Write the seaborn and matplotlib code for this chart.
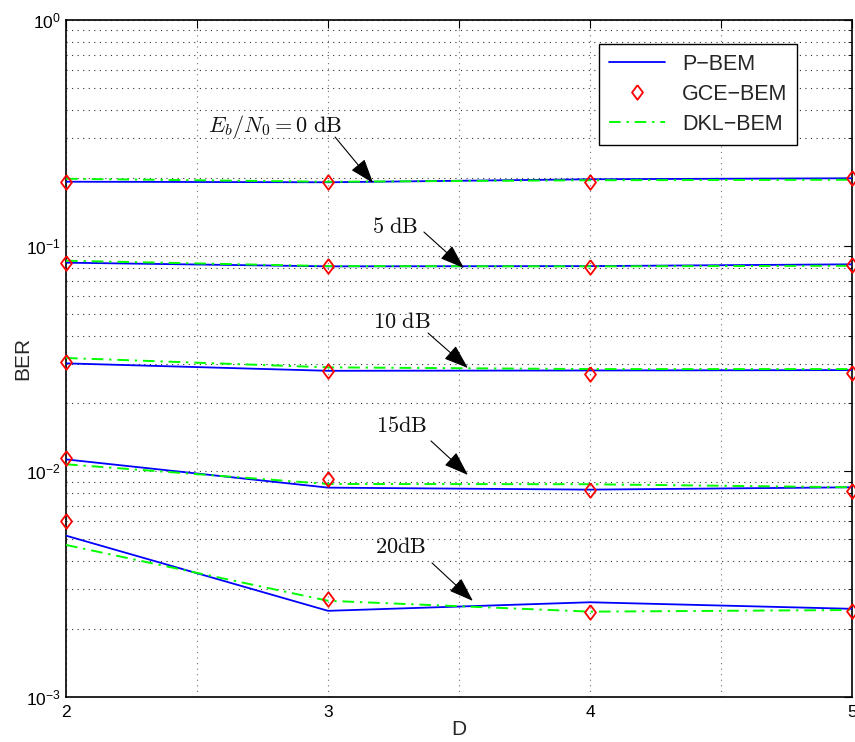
import numpy as np
import pandas as pd
import matplotlib
matplotlib.use("Agg")
import matplotlib.pyplot as plt
import seaborn as sns
from matplotlib.lines import Line2D

# Number of basis functions D
D = [2, 3, 4, 5]
snr_db = [0, 5, 10, 15, 20]

# BER for each Eb/N0 (rows) and D (columns)
p_bem = [
    [0.1921, 0.1910, 0.1970, 0.1990],
    [0.0841, 0.0810, 0.0812, 0.0827],
    [0.0301, 0.0279, 0.0280, 0.0281],
    [0.0113, 0.00847, 0.00830, 0.00850],
    [0.00519, 0.00241, 0.00263, 0.00246],
]
gce_bem = [
    [0.1920, 0.1910, 0.1920, 0.1990],
    [0.0835, 0.0810, 0.0807, 0.0818],
    [0.0305, 0.0279, 0.0271, 0.0274],
    [0.01142, 0.00923, 0.00828, 0.00819],
    [0.00605, 0.00272, 0.00238, 0.00240],
]
dkl_bem = [
    [0.1980, 0.1920, 0.1950, 0.1960],
    [0.0858, 0.0812, 0.0810, 0.0815],
    [0.0318, 0.0289, 0.0284, 0.0284],
    [0.01075, 0.00879, 0.00877, 0.00850],
    [0.00472, 0.00267, 0.00239, 0.00243],
]

annot_labels = [r"$E_b/N_0 = 0\ \mathrm{dB}$", r"$5\ \mathrm{dB}$",
                r"$10\ \mathrm{dB}$", r"$15\mathrm{dB}$", r"$20\mathrm{dB}$"]


def long_form(values, name):
    rows = []
    for snr, series in zip(snr_db, values):
        for d, v in zip(D, series):
            rows.append({"D": d, "BER": v, "snr": snr, "method": name})
    return pd.DataFrame(rows)


df_p = long_form(p_bem, "P\u2212BEM")
df_g = long_form(gce_bem, "GCE\u2212BEM")
df_k = long_form(dkl_bem, "DKL\u2212BEM")

sns.set_theme(style="white")
plt.rcParams["font.family"] = ["Liberation Sans", "DejaVu Sans"]
plt.rcParams["mathtext.fontset"] = "custom"
plt.rcParams["mathtext.rm"] = "Liberation Sans"
plt.rcParams["mathtext.it"] = "Liberation Sans:italic"
plt.rcParams["mathtext.bf"] = "Liberation Sans:bold"

# open diamond, a little wider than matplotlib's thin diamond
diamond = [(0, 1), (0.75, 0), (0, -1), (-0.75, 0), (0, 1)]

fig = plt.figure(figsize=(8.55, 7.42), dpi=100)
ax = fig.add_axes([0.0772, 0.0606, 0.9193, 0.9124])

sns.lineplot(data=df_p, x="D", y="BER", units="snr", estimator=None,
             color="#0000ff", lw=1.3, ax=ax, legend=False, zorder=3)
sns.lineplot(data=df_k, x="D", y="BER", units="snr", estimator=None,
             color="#00ff00", lw=1.4, dashes=False, ax=ax, legend=False, zorder=4)
# dash-dot style for DKL-BEM
for ln in ax.get_lines()[5:10]:
    ln.set_dashes((6, 3, 1.2, 3))
sns.lineplot(data=df_g, x="D", y="BER", units="snr", estimator=None,
             linestyle="", marker=diamond, markersize=10.5, markerfacecolor="none",
             markeredgecolor="#ff0000", markeredgewidth=1.3, color="#ff0000",
             ax=ax, legend=False, zorder=5, clip_on=False)

ax.set_yscale("log")
ax.set_xlim(2, 5)
ax.set_ylim(1e-3, 1)

ax.set_xticks(np.arange(2, 5.01, 0.5))
ax.set_xticklabels(["2", "", "3", "", "4", "", "5"])
ax.set_yticks([1e-3, 1e-2, 1e-1, 1])
ax.set_yticklabels([r"$10^{-3}$", r"$10^{-2}$", r"$10^{-1}$", r"$10^{0}$"])
ax.yaxis.set_minor_locator(matplotlib.ticker.LogLocator(base=10, subs=np.arange(2, 10)))
ax.yaxis.set_minor_formatter(matplotlib.ticker.NullFormatter())

ax.tick_params(axis="both", which="both", direction="in", top=True, right=True,
               colors="black", labelsize=12.5)
ax.tick_params(axis="both", which="major", length=6, width=0.8)
ax.tick_params(axis="y", which="minor", length=3, width=0.6)
ax.tick_params(axis="x", which="major", pad=6)

ax.grid(True, which="major", axis="x", color="0.45", linestyle=(0, (1, 4)), lw=0.8)
ax.grid(True, which="both", axis="y", color="0.2", linestyle=(0, (1, 4)), lw=0.8)
for sp in ax.spines.values():
    sp.set_color("black")
    sp.set_linewidth(1.2)

ax.set_xlabel("D", fontsize=15, labelpad=0)
ax.set_ylabel("BER", fontsize=15, labelpad=-4)

# Legend
handles = [
    Line2D([], [], color="#0000ff", lw=1.3),
    Line2D([], [], color="#ff0000", linestyle="", marker=diamond, markersize=10.5,
           markerfacecolor="none", markeredgewidth=1.3),
    Line2D([], [], color="#00ff00", lw=1.4, dashes=(6, 3, 1.2, 3)),
]
leg = ax.legend(handles, ["P\u2212BEM", "GCE\u2212BEM", "DKL\u2212BEM"],
                loc="upper right", bbox_to_anchor=(0.930, 0.9645), borderaxespad=0,
                fontsize=15.5, frameon=True, fancybox=False, edgecolor="black",
                framealpha=1, handlelength=2.6, borderpad=0.45, labelspacing=0.42,
                handletextpad=0.8)
leg.get_frame().set_linewidth(1.0)

# Eb/N0 annotations
text_pos = [(2.798, 0.336), (3.256, 0.121), (3.282, 0.0455), (3.282, 0.01573), (3.275, 0.004576)]
arrow_start = [(3.027, 0.303), (3.366, 0.115), (3.382, 0.0410), (3.393, 0.01364), (3.397, 0.003928)]
arrow_end = [(3.172, 0.1896), (3.519, 0.0796), (3.534, 0.0287), (3.534, 0.00964), (3.553, 0.002666)]
for lab, tp, a0, a1 in zip(annot_labels, text_pos, arrow_start, arrow_end):
    ax.text(tp[0], tp[1], lab, fontsize=16, ha="center", va="center",
            math_fontfamily="cm", color="#111111", zorder=6)
    ax.annotate("", xy=a1, xytext=a0,
                arrowprops=dict(arrowstyle="-|>,head_length=0.85,head_width=0.3",
                                mutation_scale=18, color="black", lw=0.8,
                                shrinkA=0, shrinkB=0), zorder=6)

fig.savefig("out.png", dpi=100)
